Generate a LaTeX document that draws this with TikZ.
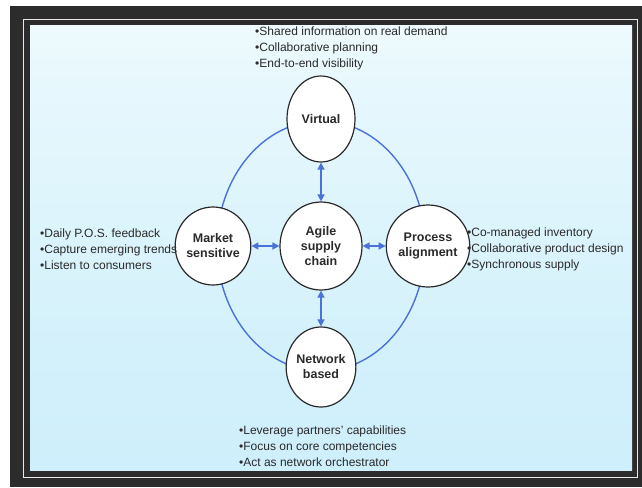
\documentclass[tikz,border=0pt]{standalone}
\usepackage{fontspec}
\setmainfont{Liberation Sans}
\usetikzlibrary{arrows.meta,shapes.geometric}

\definecolor{framedark}{HTML}{2C2C2C}
\definecolor{framelight}{HTML}{EEE6EC}
\definecolor{ringblue}{HTML}{4A72D8}
\definecolor{inkgray}{HTML}{2A2A2A}
\definecolor{skyA}{RGB}{196,235,250}
\definecolor{skyB}{RGB}{212,241,251}
\definecolor{skyC}{RGB}{232,248,253}

% panel background: white at the top fading into light sky blue
\pgfdeclareverticalshading{panelsky}{100bp}{color(0bp)=(skyA); color(40bp)=(skyB); color(70bp)=(skyC); color(88bp)=(white); color(100bp)=(white)}

\tikzset{
  pillar/.style={ellipse, draw=inkgray, line width=1.2pt, fill=white, inner sep=0pt,
    align=center, text=inkgray, font=\bfseries\fontsize{12.5}{15}\selectfont},
  ring/.style={draw=ringblue, line width=1.4pt},
  biarrow/.style={draw=ringblue, line width=1.5pt, {Triangle[length=7pt,width=7pt]}-{Triangle[length=7pt,width=7pt]}},
  bullets/.style={align=left, inner sep=0pt, anchor=west, text=inkgray,
    font=\fontsize{12}{16}\selectfont}
}

\begin{document}
\begin{tikzpicture}[x=1pt,y=-1pt]
\useasboundingbox (0,0) rectangle (642,487);

% double frame
\fill[framedark] (10,6) rectangle (642,487);
\draw[framelight, line width=1.3pt] (23.5,19.5) rectangle (637.5,477.5);
\shade[shading=panelsky] (30,26) rectangle (632,470);

% outer ring linking the four capabilities
\draw[ring] (321,246) ellipse [x radius=104, y radius=125];

% capability nodes
\node[pillar, minimum width=68pt, minimum height=86pt] (vir) at (321,119) {Virtual};
\node[pillar, minimum width=82pt, minimum height=88pt] (agile) at (321,246) {Agile\\supply\\chain};
\node[pillar, minimum width=70pt, minimum height=78pt] (mkt) at (213,246) {Market\\sensitive};
\node[pillar, minimum width=64pt, minimum height=82pt] (proc) at (428,246) {Process\\alignment};
\node[pillar, minimum width=68pt, minimum height=80pt] (net) at (321,367) {Network\\based};

% two-way links to the centre
\draw[biarrow] (vir) -- (agile);
\draw[biarrow] (mkt) -- (agile);
\draw[biarrow] (agile) -- (proc);
\draw[biarrow] (agile) -- (net);

% bullet lists
\node[bullets] (virtext) at (255,48) {•Shared information on real demand\\•Collaborative planning\\•End-to-end visibility};
\node[bullets] (mkttext) at (40,249) {•Daily P.O.S. feedback\\•Capture emerging trends\\•Listen to consumers};
\node[bullets] (proctext) at (467,249) {•Co-managed inventory\\•Collaborative product design\\•Synchronous supply};
\node[bullets] (nettext) at (239,446) {•Leverage partners' capabilities\\•Focus on core competencies\\•Act as network orchestrator};
\end{tikzpicture}
\end{document}
